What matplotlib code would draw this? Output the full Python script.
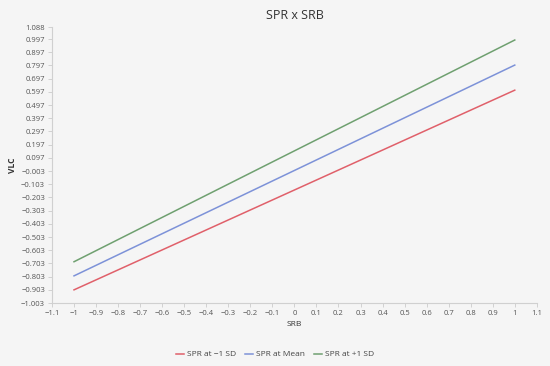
import matplotlib.pyplot as plt
import numpy as np

plt.rcParams["font.family"] = ["Open Sans", "DejaVu Sans"]

srb = [-1, 1]
spr_low = [-0.903, 0.61]
spr_mean = [-0.797, 0.80]
spr_high = [-0.69, 0.99]

series = [
    ("SPR at \u22121 SD", spr_low, "#e0606a"),
    ("SPR at Mean", spr_mean, "#7d92d8"),
    ("SPR at +1 SD", spr_high, "#6fa070"),
]

x_ticks = np.round(np.arange(-1.1, 1.1001, 0.1), 1)
y_ticks = [-1.003 + 0.1 * i for i in range(21)] + [1.088]

bg = "#f5f5f5"
fig = plt.figure(figsize=(5.5, 3.66), dpi=100, facecolor=bg)
ax = fig.add_axes([0.0945, 0.172, 0.8815, 0.754], facecolor=bg)

for name, vals, col in series:
    ax.plot(srb, vals, color=col, lw=1.1, label=name)

ax.set_xlim(-1.1, 1.1)
ax.set_ylim(-1.003, 1.088)
ax.set_xticks(x_ticks)
ax.set_xticklabels([("%g" % v).replace("-", "\u2212") for v in x_ticks])
ax.set_yticks(y_ticks)
ax.set_yticklabels([("%.3f" % v).replace("-", "\u2212") for v in y_ticks])
ax.tick_params(labelsize=5.5, colors="#555555", length=3, width=0.6, color="#cccccc", pad=2)

for s in ["top", "right"]:
    ax.spines[s].set_visible(False)
for s in ["left", "bottom"]:
    ax.spines[s].set_color("#d0d0d0")
    ax.spines[s].set_linewidth(0.8)

ax.set_title("SPR x SRB", fontsize=9, color="#333333", pad=6)
ax.set_xlabel("SRB", fontsize=6, color="#333333", labelpad=3)
ax.set_ylabel("VLC", fontsize=6, color="#333333", labelpad=3, fontweight="bold")

fig.legend(loc="lower center", bbox_to_anchor=(0.5, 0.0), ncol=3, frameon=False,
           fontsize=6, handlelength=1.0, handletextpad=0.4, columnspacing=1.0,
           labelcolor="#444444")

fig.savefig("out.png", dpi=100, facecolor=bg)
